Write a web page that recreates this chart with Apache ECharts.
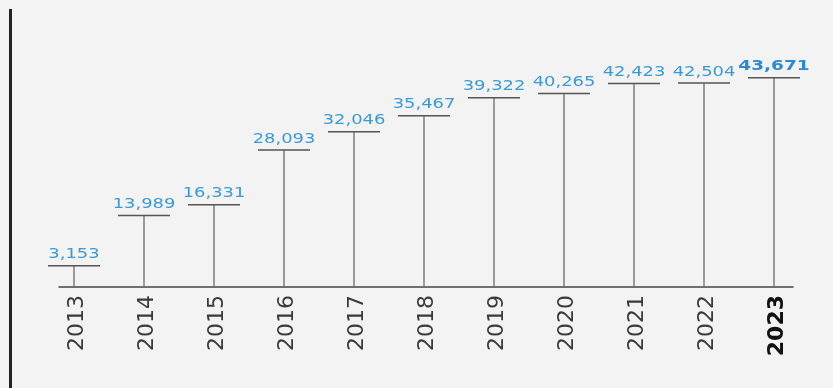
<!DOCTYPE html>
<html>
<head>
<meta charset="utf-8">
<script src="https://cdn.jsdelivr.net/npm/echarts@6/dist/echarts.min.js"></script>
<style>
  html, body { margin: 0; padding: 0; background: #f3f3f3; }
  #chart { width: 833px; height: 388px; }
</style>
</head>
<body>
<div id="chart"></div>
<script>
// Yearly totals, 2013–2023
const years = ['2013', '2014', '2015', '2016', '2017', '2018', '2019', '2020', '2021', '2022', '2023'];
const totals = [3153, 13989, 16331, 28093, 32046, 35467, 39322, 40265, 42423, 42504, 43671];
const highlightIndex = 10;

const blue = '#3b9ad8';
const blueStrong = '#2b8bd2';
const fmt = v => v.toLocaleString('en-US');

const chart = echarts.init(document.getElementById('chart'), null, { renderer: 'canvas' });

const yMin = -1400;

chart.setOption({
  backgroundColor: '#f3f3f3',
  animation: false,
  grid: { left: 59, right: 40, top: 48.25, bottom: 101 },
  xAxis: {
    type: 'value',
    min: -0.2143,
    max: 10.2714,
    splitLine: { show: false },
    axisTick: { show: false },
    axisLine: { show: true, onZero: false, lineStyle: { color: '#444', width: 1.5 } },
    axisLabel: {
      customValues: years.map((_, i) => i),
      rotate: 90,
      margin: 8,
      padding: [6, 0, 0, 0],
      fontFamily: 'DejaVu Sans',
      fontSize: 22,
      color: '#3a3a3a',
      formatter: v => {
        const i = Math.round(v);
        return i === highlightIndex ? '{b|' + years[i] + '}' : years[i];
      },
      rich: {
        b: { fontFamily: 'DejaVu Sans', fontSize: 22, fontWeight: 'bold', color: '#111' }
      }
    }
  },
  yAxis: {
    type: 'value',
    min: yMin,
    max: 50000,
    show: false
  },
  graphic: [{
    type: 'line',
    shape: { x1: 10.5, y1: 9, x2: 10.5, y2: 388 },
    style: { stroke: '#222', lineWidth: 3 },
    silent: true
  }],
  series: [{
    type: 'custom',
    data: totals.map((v, i) => [i, v]),
    renderItem: (params, api) => {
      const i = api.value(0);
      const v = api.value(1);
      const top = api.coord([i, v]);
      const base = api.coord([i, yMin]);
      const strong = i === highlightIndex;
      const half = 26;
      return {
        type: 'group',
        children: [
          {
            type: 'line',
            shape: { x1: top[0], y1: top[1], x2: base[0], y2: base[1] },
            style: { stroke: '#6a6a6a', lineWidth: 1.3 }
          },
          {
            type: 'line',
            shape: { x1: top[0] - half, y1: top[1], x2: top[0] + half, y2: top[1] },
            style: { stroke: '#555', lineWidth: 1.5 }
          },
          {
            type: 'text',
            x: top[0],
            y: top[1] - 4,
            scaleX: strong ? 1.32 : 1.28,
            style: {
              text: fmt(v),
              x: 0,
              y: 0,
              align: 'center',
              verticalAlign: 'bottom',
              fill: strong ? blueStrong : blue,
              fontFamily: 'DejaVu Sans',
              fontSize: 14,
              fontWeight: strong ? 'bold' : 'normal'
            }
          }
        ]
      };
    }
  }]
});
</script>
</body>
</html>
